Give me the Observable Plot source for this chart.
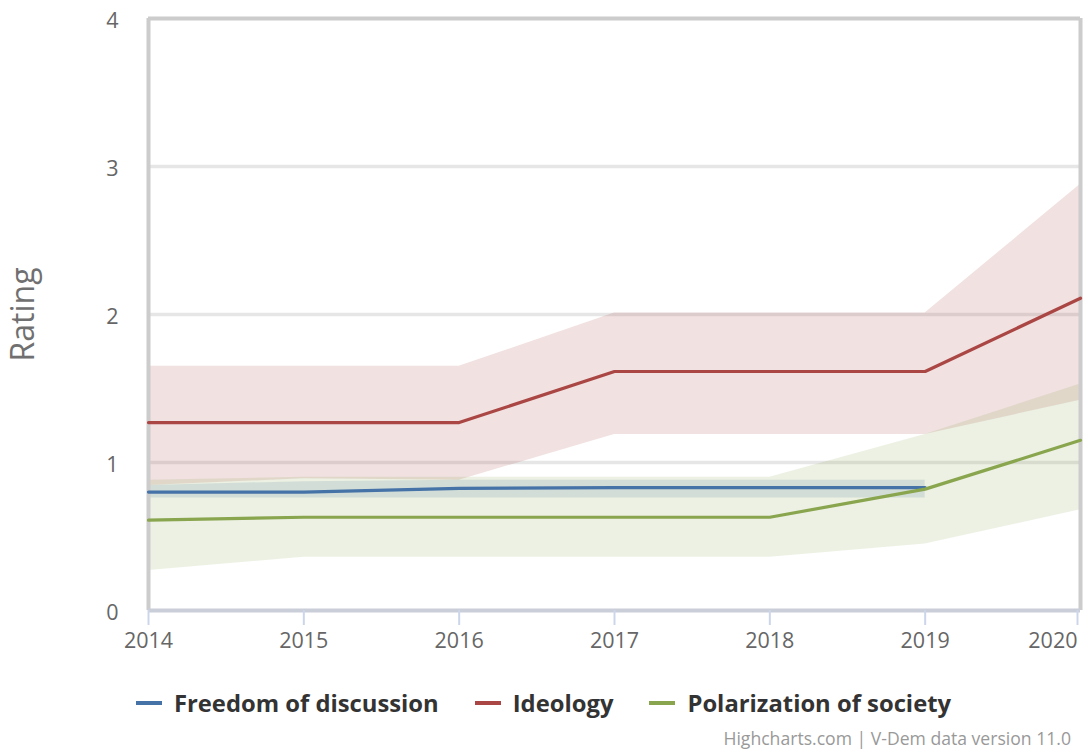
<!DOCTYPE html>
<html>
<head>
<meta charset="utf-8">
<script src="https://cdn.jsdelivr.net/npm/d3@7"></script>
<script src="https://cdn.jsdelivr.net/npm/@observablehq/plot@0.6"></script>
<style>
  html, body { margin: 0; padding: 0; background: #fff; }
  #chart { width: 1083px; }
  #legend {
    display: flex; justify-content: center; align-items: center; gap: 36px;
    margin-top: 27px; height: 32px; padding-left: 4px;
    font-family: "Open Sans", sans-serif; font-weight: bold; font-size: 23.8px; color: #333;
  }
  #legend .item { display: flex; align-items: center; }
  #legend .swatch { display: inline-block; width: 26px; height: 3.5px; margin-right: 12px; }
  #credits {
    margin-top: 8px; height: 22px; line-height: 22px; text-align: right; padding-right: 12px;
    font-family: "Open Sans", sans-serif; font-size: 17.6px; color: #999;
  }
</style>
</head>
<body>
<div id="chart"></div>
<div id="legend"></div>
<div id="credits">Highcharts.com | V-Dem data version 11.0</div>
<script>
// Years on the x axis
const years = [2014, 2015, 2016, 2017, 2018, 2019, 2020];
const yTicks = [0, 1, 2, 3, 4];

// Series names and colours
const seriesNames = ["Freedom of discussion", "Ideology", "Polarization of society"];
const seriesColors = ["#4572A7", "#AA4643", "#89A54E"];

// Freedom of discussion: estimate and confidence interval (no 2020 value)
const freedomMid  = [0.80, 0.80, 0.825, 0.83, 0.83, 0.83, null];
const freedomLow  = [0.76, 0.76, 0.76, 0.76, 0.76, 0.76, null];
const freedomHigh = [0.845, 0.87, 0.88, 0.88, 0.88, 0.88, null];

// Ideology
const ideologyMid  = [1.27, 1.27, 1.27, 1.615, 1.615, 1.615, 2.11];
const ideologyLow  = [0.845, 0.89, 0.88, 1.19, 1.19, 1.19, 1.42];
const ideologyHigh = [1.65, 1.65, 1.65, 2.01, 2.01, 2.01, 2.88];

// Polarization of society
const polarMid  = [0.61, 0.63, 0.63, 0.63, 0.63, 0.82, 1.15];
const polarLow  = [0.27, 0.36, 0.36, 0.36, 0.36, 0.45, 0.68];
const polarHigh = [0.88, 0.90, 0.90, 0.90, 0.90, 1.19, 1.53];

const seriesData = [
  [freedomMid, freedomLow, freedomHigh],
  [ideologyMid, ideologyLow, ideologyHigh],
  [polarMid, polarLow, polarHigh]
];

// Long-format rows for the marks
const rows = [];
seriesNames.forEach((name, s) => {
  const [mid, low, high] = seriesData[s];
  years.forEach((year, i) => {
    if (mid[i] != null) rows.push({series: name, year, mid: mid[i], low: low[i], high: high[i]});
  });
});

const lastYear = years[years.length - 1];
const axisCommon = {tickFormat: d => String(d), tickSize: 15, tickPadding: 7,
                    stroke: "#ccd6eb", strokeWidth: 2, label: null};

const chart = Plot.plot({
  width: 1083,
  height: 660,
  marginTop: 18,
  marginLeft: 148,
  marginRight: 3,
  marginBottom: 50,
  x: {domain: [years[0], lastYear]},
  y: {domain: [0, 4]},
  color: {domain: seriesNames, range: seriesColors},
  style: {fontFamily: "'Open Sans', sans-serif", fontSize: "21.5px", color: "#666", background: "#fff"},
  marks: [
    Plot.ruleY([1, 2, 3], {stroke: "#e6e6e6", strokeWidth: 3.5}),
    Plot.areaY(rows, {x: "year", y1: "low", y2: "high", z: "series", fill: "series", fillOpacity: 0.16}),
    Plot.ruleY([4], {stroke: "#cccccc", strokeWidth: 4}),
    Plot.ruleX([years[0], lastYear], {stroke: "#cccccc", strokeWidth: 4}),
    Plot.ruleY([0], {stroke: "#c9ced8", strokeWidth: 4}),
    Plot.lineY(rows, {x: "year", y: "mid", z: "series", stroke: "series", strokeWidth: 3.2}),
    // x axis: the last label is kept inside the chart by anchoring it at its end
    Plot.axisX({...axisCommon, ticks: years.slice(0, -1)}),
    Plot.axisX({...axisCommon, ticks: [lastYear], textAnchor: "end", dx: -3}),
    Plot.axisY({ticks: yTicks, tickFormat: d => String(d), tickSize: 0, tickPadding: 30, dy: 3, label: null}),
    Plot.text(["Rating"], {frameAnchor: "left", dx: -125, rotate: -90, textAnchor: "middle",
                           fontSize: 32, fill: "#707070", lineAnchor: "middle"})
  ]
});
document.getElementById("chart").appendChild(chart);

// Legend below the chart
const legend = document.getElementById("legend");
seriesNames.forEach((name, i) => {
  const item = document.createElement("div");
  item.className = "item";
  const sw = document.createElement("span");
  sw.className = "swatch";
  sw.style.background = seriesColors[i];
  item.appendChild(sw);
  item.appendChild(document.createTextNode(name));
  legend.appendChild(item);
});
</script>
</body>
</html>
